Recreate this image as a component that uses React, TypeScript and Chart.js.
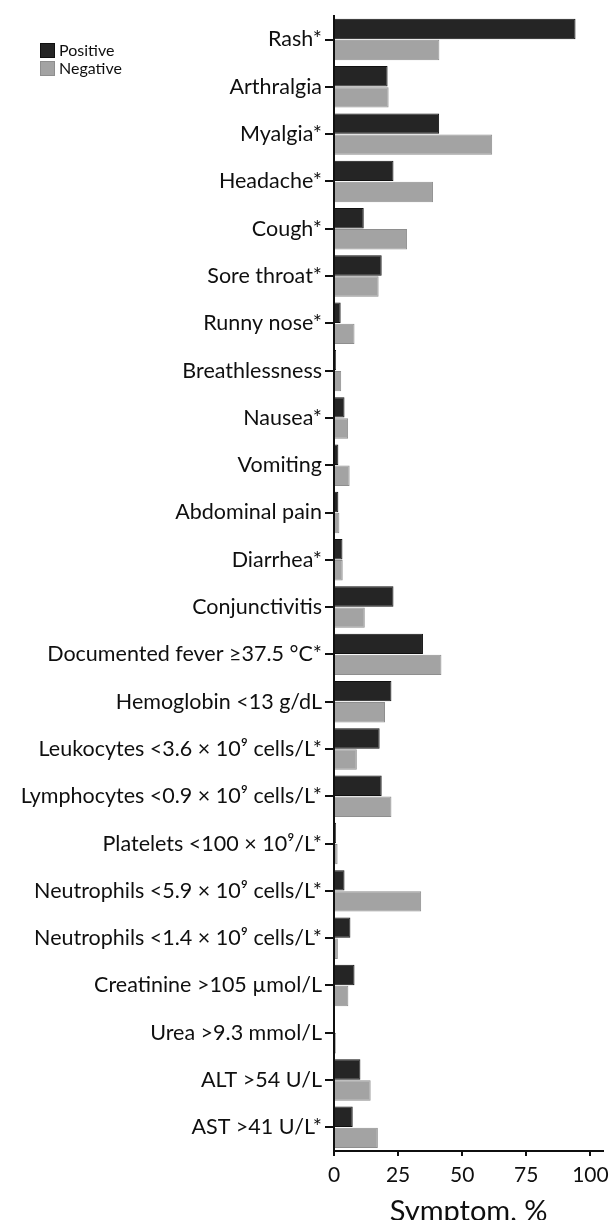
import React, { useEffect, useRef } from "react";
import { Chart, registerables } from "chart.js";

Chart.register(...registerables);

const categories = [
  "Rash*",
  "Arthralgia",
  "Myalgia*",
  "Headache*",
  "Cough*",
  "Sore throat*",
  "Runny nose*",
  "Breathlessness",
  "Nausea*",
  "Vomiting",
  "Abdominal pain",
  "Diarrhea*",
  "Conjunctivitis",
  "Documented fever ≥37.5 °C*",
  "Hemoglobin <13 g/dL",
  "Leukocytes <3.6 × 10⁹ cells/L*",
  "Lymphocytes <0.9 × 10⁹ cells/L*",
  "Platelets <100 × 10⁹/L*",
  "Neutrophils <5.9 × 10⁹ cells/L*",
  "Neutrophils <1.4 × 10⁹ cells/L*",
  "Creatinine >105 µmol/L",
  "Urea >9.3 mmol/L",
  "ALT >54 U/L",
  "AST >41 U/L*",
];

const positiveValues = [
  94.2, 20.9, 41.0, 23.2, 11.6, 18.6, 2.6, 0.8, 4.1, 1.7, 1.7, 3.3, 23.2, 34.7,
  22.4, 17.8, 18.6, 0.8, 4.1, 6.4, 8.0, 0, 10.3, 7.3,
];

const negativeValues = [
  41.1, 21.3, 61.7, 38.6, 28.5, 17.4, 8.0, 2.8, 5.5, 6.1, 2.1, 3.4, 12.0, 41.9,
  19.9, 8.9, 22.4, 1.4, 34.0, 1.5, 5.6, 0.8, 14.3, 17.1,
];

const seriesNames = ["Positive", "Negative"];
const xTickValues = [0, 25, 50, 75, 100];
const xTitle = "Symptom, %";

const FONT = "Lato, 'Open Sans', sans-serif";
const INK = "#0f0f0f";
const POS_FILL = "#252525";
const POS_BORDER = "#111111";
const NEG_FILL = "#a3a3a3";
const NEG_BORDER = "#8e8e8e";

export default function App() {
  const canvasRef = useRef<HTMLCanvasElement | null>(null);

  useEffect(() => {
    if (!canvasRef.current) return;
    const chart = new Chart(canvasRef.current, {
      type: "bar",
      data: {
        labels: categories,
        datasets: [
          {
            label: seriesNames[0],
            data: positiveValues,
            backgroundColor: POS_FILL,
            borderColor: POS_BORDER,
            borderWidth: 1,
            categoryPercentage: 0.89,
            barPercentage: 0.97,
          },
          {
            label: seriesNames[1],
            data: negativeValues,
            backgroundColor: NEG_FILL,
            borderColor: NEG_BORDER,
            borderWidth: 1,
            categoryPercentage: 0.89,
            barPercentage: 0.97,
          },
        ],
      },
      options: {
        indexAxis: "y",
        animation: false,
        responsive: true,
        maintainAspectRatio: false,
        layout: { padding: { top: 14, right: 7, left: 0, bottom: 0 } },
        plugins: {
          legend: { display: false },
          tooltip: { enabled: false },
        },
        scales: {
          y: {
            type: "category",
            afterFit: (s: any) => {
              s.width = 334;
            },
            grid: {
              display: true,
              drawOnChartArea: false,
              drawTicks: true,
              tickLength: 9,
              lineWidth: 2,
              color: INK,
              offset: false,
            },
            border: { display: true, color: INK, width: 2 },
            ticks: {
              color: INK,
              padding: 3,
              font: { family: FONT, size: 21.5 },
              autoSkip: false,
            },
          },
          x: {
            type: "linear",
            min: 0,
            max: 105,
            afterFit: (s: any) => {
              s.height = 69;
            },
            afterBuildTicks: (s: any) => {
              s.ticks = xTickValues.map((v) => ({ value: v }));
            },
            grid: {
              display: true,
              drawOnChartArea: false,
              drawTicks: true,
              tickLength: 5,
              lineWidth: 2,
              color: INK,
            },
            border: { display: true, color: INK, width: 2 },
            ticks: {
              color: INK,
              padding: 7,
              font: { family: FONT, size: 21 },
              includeBounds: false,
            },
            title: {
              display: true,
              text: xTitle,
              color: INK,
              font: { family: FONT, size: 29, lineHeight: 0.6 },
              padding: { top: 0, bottom: 0 },
            },
          },
        },
      },
    });
    return () => chart.destroy();
  }, []);

  const legendItem = (name: string, fill: string, border: string) => (
    <div
      key={name}
      style={{ display: "flex", alignItems: "center", height: 18 }}
    >
      <div
        style={{
          width: 15,
          height: 15,
          boxSizing: "border-box",
          background: fill,
          border: `1px solid ${border}`,
          marginRight: 4,
        }}
      />
      <span
        style={{
          fontFamily: FONT,
          fontSize: 16,
          color: INK,
          lineHeight: "18px",
        }}
      >
        {name}
      </span>
    </div>
  );

  return (
    <div
      style={{
        position: "absolute",
        left: 0,
        top: 0,
        width: 616,
        height: 1220,
        background: "#ffffff",
      }}
    >
      <canvas ref={canvasRef} />
      <div style={{ position: "absolute", left: 40, top: 41 }}>
        {legendItem(seriesNames[0], POS_FILL, POS_BORDER)}
        {legendItem(seriesNames[1], NEG_FILL, NEG_BORDER)}
      </div>
    </div>
  );
}
